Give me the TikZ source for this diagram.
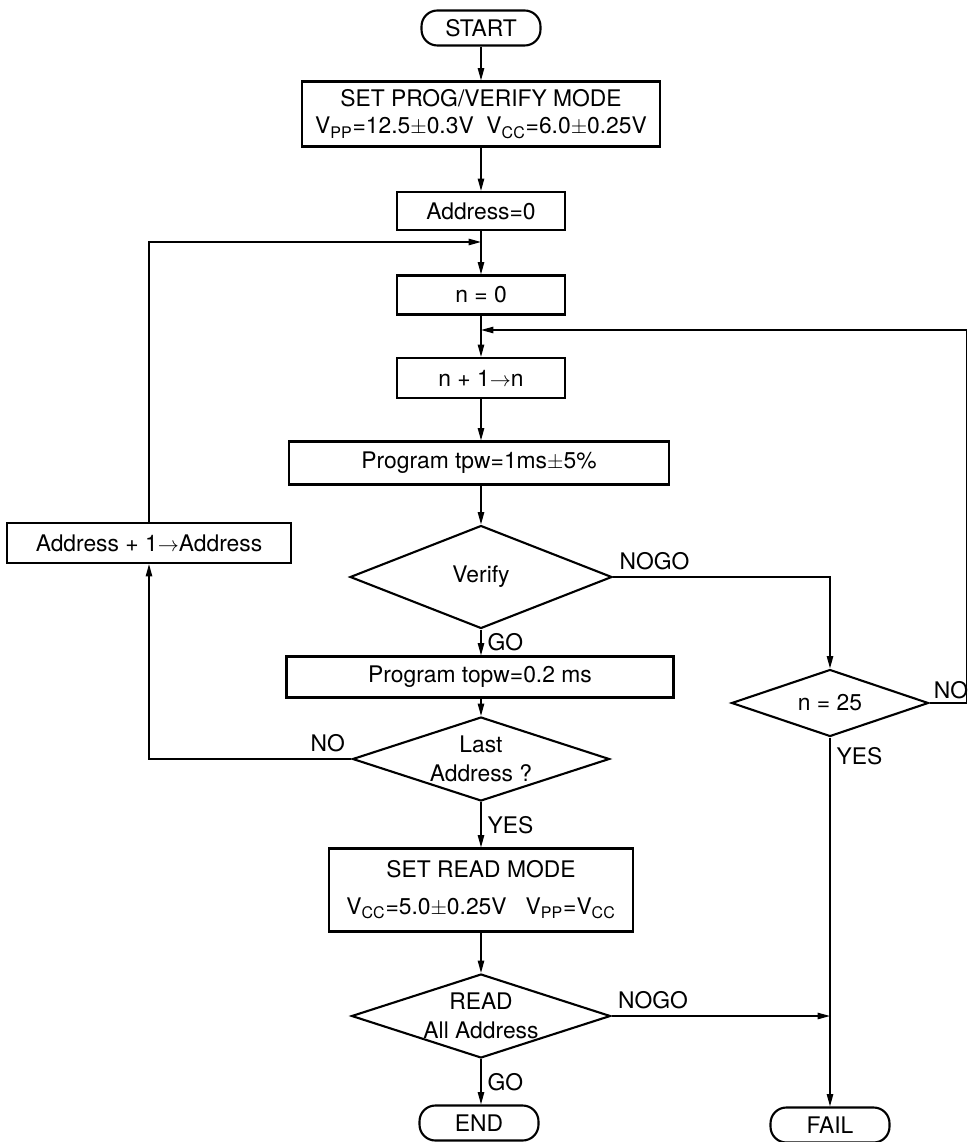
\documentclass[tikz,border=0pt]{standalone}
\usepackage{fontspec}
\setmainfont{TeX Gyre Heros}
\usepackage{tikz}
\usetikzlibrary{shapes.geometric,arrows.meta}

\begin{document}
\begin{tikzpicture}[x=0.02cm,y=-0.02cm]
	
	\tikzset{every node/.style={font=\fontsize{13}{15.6}\selectfont},
		box/.style={draw,line width=1.2pt,inner sep=0pt,align=center},
		term/.style={draw,line width=1.2pt,rounded corners=9pt,minimum width=2.38cm,minimum height=0.7cm},
		decision/.style={draw,diamond,line width=1.2pt,inner sep=0pt},
		flow/.style={line width=0.85pt,-{Triangle[length=7pt,width=3.6pt]}}}
	
	\useasboundingbox (0,0) rectangle (969,1142);
	
	\node[term] (start) at (481,28) {START};
	\node[box,minimum width=7.16cm,minimum height=1.3cm] (setprog) at (481,114)
		{SET PROG/VERIFY MODE\\V\textsubscript{PP}=12.5$\pm$0.3V\ \ V\textsubscript{CC}=6.0$\pm$0.25V};
	\node[box,minimum width=3.36cm,minimum height=0.76cm] (addr0) at (481,211) {Address=0};
	\node[box,minimum width=3.36cm,minimum height=0.78cm] (n0) at (481,295) {n = 0};
	\node[box,minimum width=3.36cm,minimum height=0.8cm] (ninc) at (481,378) {n + 1$\rightarrow$n};
	\node[box,minimum width=7.6cm,minimum height=0.86cm] (prog) at (479,463) {Program tpw=1ms$\pm$5\%};
	\node[box,minimum width=5.68cm,minimum height=0.8cm] (addrinc) at (149,543) {Address + 1$\rightarrow$Address};
	\node[decision,minimum width=5.24cm,minimum height=2.06cm,label={center:Verify}] (verify) at (481,577) {};
	\node[box,minimum width=7.74cm,minimum height=0.82cm] (progop) at (480,677) {Program topw=0.2 ms};
	\node[decision,minimum width=5.14cm,minimum height=1.68cm,
		label={[align=center]center:Last\\[1pt]Address ?}] (last) at (481,759) {};
	\node[box,minimum width=6.08cm,minimum height=1.66cm] (setread) at (481,890)
		{SET READ MODE\\[5pt]V\textsubscript{CC}=5.0$\pm$0.25V\ \ \ V\textsubscript{PP}=V\textsubscript{CC}};
	\node[decision,minimum width=5.18cm,minimum height=1.68cm,
		label={[align=center]center:READ\\[1pt]All Address}] (readall) at (481,1016) {};
	\node[term] (end) at (479,1123) {END};
	\node[decision,minimum width=3.94cm,minimum height=1.34cm,label={center:n = 25}] (n25) at (830,703) {};
	\node[term] (fail) at (830,1125) {FAIL};
	
	\coordinate (join1) at (481,242);
	\coordinate (join2) at (481,330);
	\coordinate (join3) at (830,1016);
	
	\draw[flow] (start) -- (setprog);
	\draw[flow] (setprog) -- (addr0);
	\draw[flow] (addr0) -- (n0);
	\draw[flow] (n0) -- (ninc);
	\draw[flow] (ninc) -- (ninc |- prog.north);
	\draw[flow] (verify |- prog.south) -- (verify);
	\draw[flow] (verify) -- node[right]{GO} (verify |- progop.north);
	\draw[flow] (verify.east) -- node[pos=0,above right]{NOGO} (830,577) -- (n25.north);
	\draw[flow] (last |- progop.south) -- (last);
	\draw[flow] (last.west) -- node[pos=0,above left]{NO} (149,759) -- (addrinc.south);
	\draw[flow] (addrinc.north) |- (join1);
	\draw[flow] (last) -- node[right]{YES} (setread);
	\draw[flow] (setread) -- (readall);
	\draw[flow] (readall) -- node[right]{GO} (readall |- end.north);
	\draw[flow] (readall.east) -- node[pos=0,above right]{NOGO} (join3);
	\draw[flow] (n25.east) -- node[pos=0,above right,inner sep=2pt]{NO} ++(37,0) |- (join2);
	\draw[flow] (n25.south) -- node[pos=0.05,right]{YES} (fail);
	
\end{tikzpicture}
\end{document}
